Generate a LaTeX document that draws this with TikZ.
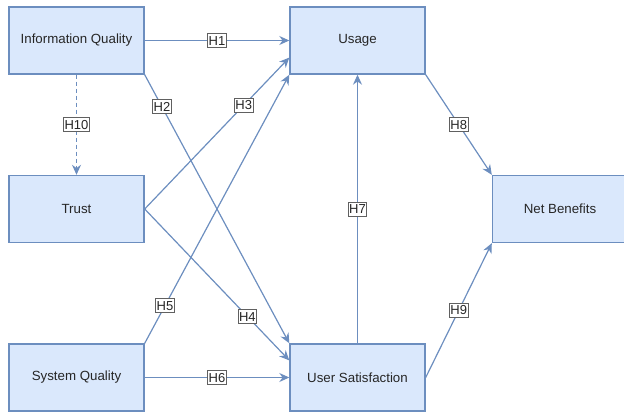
\documentclass[tikz,border=0pt]{standalone}
\usepackage{fontspec}
\setmainfont{Liberation Sans}
\usetikzlibrary{arrows.meta,calc}
\definecolor{boxfill}{HTML}{DAE8FC}
\definecolor{boxline}{HTML}{6C8EBF}
\begin{document}
\begin{tikzpicture}[x=1pt,y=-1pt,
  box/.style={draw=boxline, fill=boxfill, line width=1.4pt, minimum width=135pt, minimum height=67pt, inner sep=0pt, font=\fontsize{13.3}{15}\selectfont, text=black!85},
  link/.style={draw=boxline, line width=1.2pt, -{Stealth[length=10pt,width=9pt]}},
  hlab/.style={draw=gray!75!black, fill=white, line width=0.9pt, solid, inner xsep=1pt, inner ysep=2pt, text height=9.5pt, text depth=0.5pt, font=\fontsize{13}{14}\selectfont, text=black!85}]
\useasboundingbox (0,0) rectangle (624,413);
\clip (0,0) rectangle (624,413);
\node[box] (iq) at (76.5,40.5) {Information Quality};
\node[box] (trust) at (76.5,209) {Trust};
\node[box] (sq) at (76.5,377.5) {System Quality};
\node[box] (usage) at (357.5,40.5) {Usage};
\node[box] (usr) at (357.5,377.5) {User Satisfaction};
\node[box] (nb) at (560,209) {Net Benefits};
\draw[link] (iq.east) -- node[hlab] {H1} (usage.west);
\draw[link] (iq.south east) -- node[hlab,pos=0.12] {H2} (usr.north west);
\draw[link] (trust.east) -- node[hlab,pos=0.685] {H3} ($(usage.west)!0.5!(usage.south west)$);
\draw[link] (trust.east) -- node[hlab,pos=0.71] {H4} ($(usr.north west)!0.5!(usr.west)$);
\draw[link] (sq.north east) -- node[hlab,pos=0.14] {H5} (usage.south west);
\draw[link] (sq.east) -- node[hlab] {H6} (usr.west);
\draw[link] (usr.north) -- node[hlab] {H7} (usage.south);
\draw[link] (usage.south east) -- node[hlab] {H8} (nb.north west);
\draw[link] (usr.east) -- node[hlab] {H9} (nb.south west);
\draw[link,dash pattern=on 4pt off 3pt] (iq.south) -- node[hlab] {H10} (trust.north);
\end{tikzpicture}
\end{document}
